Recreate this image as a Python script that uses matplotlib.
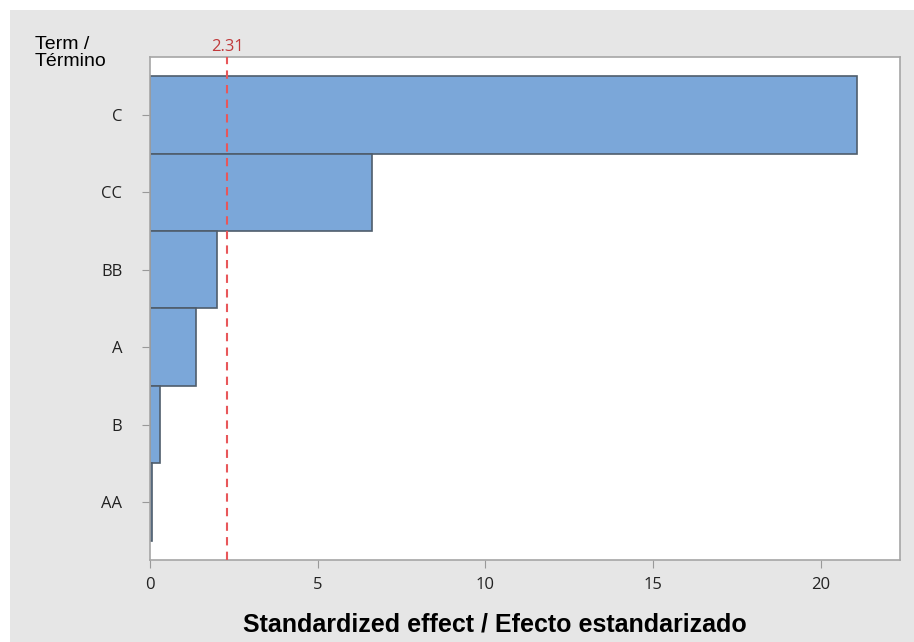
import matplotlib.pyplot as plt
from matplotlib.patches import Rectangle

terms = ["C", "CC", "BB", "A", "B", "AA"]
effects = [21.08, 6.62, 2.0, 1.37, 0.30, 0.07]
critical = 2.31
xticks = [0, 5, 10, 15, 20]


def main():
    fig = plt.figure(figsize=(9.14, 6.42), dpi=100)
    fig.patch.set_facecolor("white")
    fig.patches.append(Rectangle((10 / 914, 0), 1, 1 - 10 / 642,
                                 transform=fig.transFigure,
                                 facecolor="#e6e6e6", edgecolor="none", zorder=-10))

    ax = fig.add_axes([150 / 914, 1 - 560 / 642, 750 / 914, 503 / 642])
    ax.set_facecolor("white")

    ax.barh(range(len(terms)), effects, height=1.0,
            color="#7ba7d9", edgecolor="#4f5d6c", linewidth=1.2, zorder=2)
    ax.axvline(critical, color="#e8575a", linestyle=(0, (4, 3)),
               linewidth=1.5, zorder=3)

    ax.set_ylim(5.75, -0.75)
    ax.set_xlim(0, 22.36)
    ax.set_yticks(range(len(terms)))
    ax.set_yticklabels(terms)
    ax.set_xticks(xticks)

    for s in ax.spines.values():
        s.set_color("#a6a6a6")
        s.set_linewidth(1.2)
    ax.tick_params(axis="both", colors="#999999", length=6, labelsize=12,
                   labelcolor="#222222")
    for lab in ax.get_xticklabels() + ax.get_yticklabels():
        lab.set_family("Open Sans")
    ax.tick_params(axis="y", pad=14)
    ax.tick_params(axis="x", pad=6)

    ax.text(critical, -0.78, "2.31", color="#c0393b", fontsize=12,
            family="Open Sans", ha="center", va="bottom",
            transform=ax.transData)

    fig.text(35 / 914, 1 - 36 / 642, "Term /\nTérmino", fontsize=14,
             family="Liberation Sans", ha="left", va="top", linespacing=1.0)

    ax.set_xlabel("Standardized effect / Efecto estandarizado",
                  family="Liberation Sans", fontweight="bold", fontsize=18,
                  labelpad=14)
    ax.xaxis.set_label_coords((495 - 150) / 750, -0.105)

    fig.savefig("out.png", dpi=100)


if __name__ == "__main__":
    main()
